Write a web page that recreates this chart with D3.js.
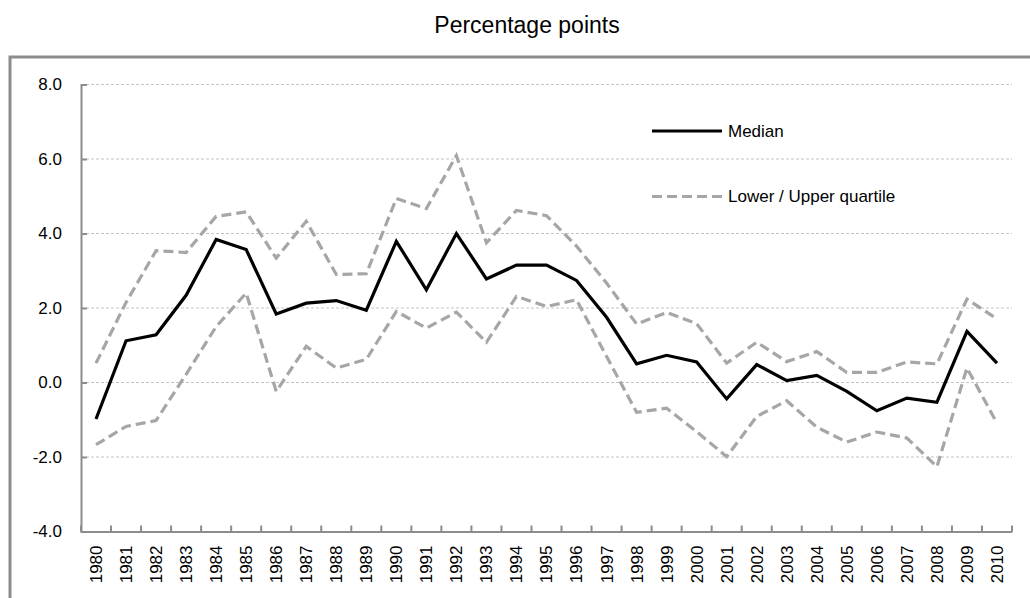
<!DOCTYPE html>
<html><head><meta charset="utf-8">
<script src="https://cdn.jsdelivr.net/npm/d3@7"></script>
<style>
html,body{margin:0;padding:0;background:#fff;}
svg{display:block;font-family:"Liberation Sans",Arial,sans-serif;}
</style></head>
<body>
<svg id="chart" width="1030" height="598"></svg>
<script>
const years = ["1980","1981","1982","1983","1984","1985","1986","1987","1988","1989","1990","1991","1992","1993","1994","1995","1996","1997","1998","1999","2000","2001","2002","2003","2004","2005","2006","2007","2008","2009","2010"];
const median = [-0.98,1.12,1.28,2.34,3.84,3.57,1.84,2.13,2.20,1.94,3.79,2.49,4.00,2.78,3.15,3.15,2.74,1.75,0.50,0.73,0.55,-0.44,0.48,0.05,0.19,-0.24,-0.76,-0.42,-0.53,1.37,0.52];
const upperQuartile = [0.52,2.15,3.54,3.49,4.46,4.58,3.34,4.33,2.90,2.92,4.94,4.67,6.09,3.75,4.62,4.48,3.66,2.67,1.57,1.88,1.58,0.52,1.08,0.56,0.83,0.27,0.27,0.55,0.50,2.24,1.71];
const lowerQuartile = [-1.67,-1.18,-1.02,0.22,1.50,2.40,-0.24,0.97,0.39,0.62,1.91,1.46,1.89,1.08,2.31,2.04,2.22,0.70,-0.80,-0.69,-1.32,-1.99,-0.91,-0.49,-1.20,-1.60,-1.33,-1.49,-2.26,0.39,-1.09];
const yTicks = [-4,-2,0,2,4,6,8];
const yTickLabels = ["-4.0","-2.0","0.0","2.0","4.0","6.0","8.0"];
const title = "Percentage points";
const legendItems = [{label:"Median", key:"median"},{label:"Lower / Upper quartile", key:"quartile"}];

const svg = d3.select("#chart");
const x = d3.scaleBand().domain(years).range([81,1012]);
const y = d3.scaleLinear().domain([-4,8]).range([531.5,84.5]);

// frame
svg.append("rect").attr("x",10).attr("y",57).attr("width",1040).attr("height",600)
  .attr("fill","none").attr("stroke","#8c8c8c").attr("stroke-width",3);

// title
svg.append("text").attr("x",527).attr("y",33).attr("text-anchor","middle")
  .attr("font-size",23).attr("fill","#000").text(title);

// gridlines
svg.append("g").selectAll("line").data(yTicks.filter(d=>d>-4)).join("line")
  .attr("x1",81).attr("x2",1012).attr("y1",d=>y(d)).attr("y2",d=>y(d))
  .attr("stroke","#c4c4c4").attr("stroke-width",1).attr("stroke-dasharray","3,2");

// y axis
const yAxis = svg.append("g").attr("transform","translate(81,0)")
  .call(d3.axisLeft(y).tickValues(yTicks).tickSize(-6).tickPadding(19)
    .tickFormat((d,i)=>yTickLabels[i]));
yAxis.select(".domain").attr("stroke","#8c8c8c").attr("stroke-width",2);
yAxis.selectAll(".tick line").attr("stroke","#8c8c8c").attr("stroke-width",2);
yAxis.selectAll(".tick text").attr("font-size",17).attr("fill","#000").attr("font-family","Liberation Sans, Arial, sans-serif");

// x axis
const xAxis = svg.append("g").attr("transform",`translate(0,${y(-4)})`)
  .call(d3.axisBottom(x).tickSize(0).tickSizeOuter(0));
xAxis.select(".domain").attr("stroke","#8c8c8c").attr("stroke-width",2);
xAxis.selectAll(".tick text").attr("font-size",17).attr("fill","#000")
  .attr("font-family","Liberation Sans, Arial, sans-serif")
  .attr("transform","rotate(-90)").attr("text-anchor","end")
  .attr("x",-14).attr("y",0).attr("dy","0.35em");
// tick marks at band boundaries
const bounds = years.map(d=>x(d)).concat([x.range()[1]]);
svg.append("g").selectAll("line").data(bounds).join("line")
  .attr("x1",d=>d).attr("x2",d=>d).attr("y1",y(-4)).attr("y2",y(-4)-6)
  .attr("stroke","#8c8c8c").attr("stroke-width",2);

const cx = d => x(d) + x.bandwidth()/2;
const line = vals => d3.line().x((d,i)=>cx(years[i])).y(d=>y(d))(vals);

svg.append("path").attr("d",line(upperQuartile)).attr("fill","none")
  .attr("stroke","#a6a6a6").attr("stroke-width",3.2).attr("stroke-dasharray","10,5");
svg.append("path").attr("d",line(lowerQuartile)).attr("fill","none")
  .attr("stroke","#a6a6a6").attr("stroke-width",3.2).attr("stroke-dasharray","10,5");
svg.append("path").attr("d",line(median)).attr("fill","none")
  .attr("stroke","#000").attr("stroke-width",3.2).attr("stroke-linejoin","miter");

// legend
const lg = svg.append("g");
const ly = [131, 196.5];
legendItems.forEach((it,i)=>{
  const l = lg.append("line").attr("x1",652).attr("x2",722).attr("y1",ly[i]).attr("y2",ly[i])
    .attr("stroke-width",3.2);
  if(it.key==="median") l.attr("stroke","#000");
  else l.attr("stroke","#a6a6a6").attr("stroke-dasharray","10,5");
  lg.append("text").attr("x",728).attr("y",ly[i]).attr("dy","0.35em")
    .attr("font-size",17).attr("fill","#000").text(it.label);
});
</script>
</body></html>
